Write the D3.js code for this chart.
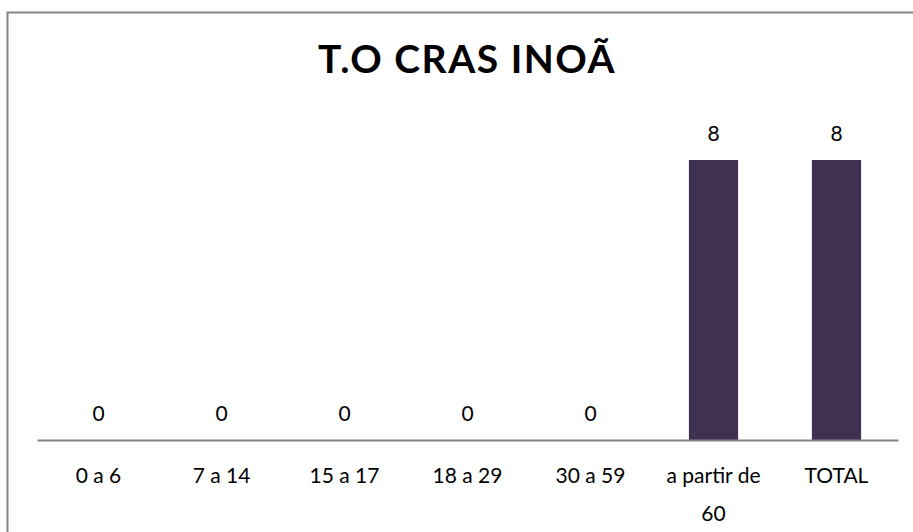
<!DOCTYPE html>
<html>
<head>
<meta charset="utf-8">
<script src="https://cdn.jsdelivr.net/npm/d3@7"></script>
<style>
  body { margin: 0; background: #fff; }
  svg { display: block; font-family: Lato, "Open Sans", sans-serif; }
</style>
</head>
<body>
<svg id="chart" width="913" height="532"></svg>
<script>
// chart data
const TITLE = "T.O CRAS INOÃ";
const categories = ["0 a 6", "7 a 14", "15 a 17", "18 a 29", "30 a 59", "a partir de 60", "TOTAL"];
const values = [0, 0, 0, 0, 0, 8, 8];
const Y_MAX = 9;

var width = 913, height = 532;
var margin = {top: 125, left: 37, right: 15, bottom: 92};
var labelSize = 21;

var svg = d3.select("#chart");

// outer frame (right and bottom edges fall outside the picture)
svg.append("rect")
  .attr("x", 7.5)
  .attr("y", 12.5)
  .attr("width", 940)
  .attr("height", 560)
  .attr("fill", "#fff")
  .attr("stroke", "#868686")
  .attr("stroke-width", 2);

svg.append("text")
  .attr("x", 467)
  .attr("y", 73)
  .attr("text-anchor", "middle")
  .attr("font-size", 39)
  .attr("font-weight", "bold")
  .attr("letter-spacing", 1.5)
  .attr("fill", "#000")
  .text(TITLE);

var x = d3.scaleBand()
  .domain(categories)
  .range([margin.left, width - margin.right])
  .paddingInner(0.6)
  .paddingOuter(0.3);

var y = d3.scaleLinear()
  .domain([0, Y_MAX])
  .range([height - margin.bottom, margin.top]);

// bars
svg.selectAll(".bar")
  .data(values)
  .enter().append("rect")
  .attr("class", "bar")
  .attr("x", function(d, i) { return x(categories[i]); })
  .attr("width", x.bandwidth())
  .attr("y", function(d) { return y(d); })
  .attr("height", function(d) { return y(0) - y(d); })
  .attr("fill", "#403152");

// value labels
svg.selectAll(".barValue")
  .data(values)
  .enter().append("text")
  .attr("class", "barValue")
  .attr("text-anchor", "middle")
  .attr("font-size", labelSize)
  .attr("x", function(d, i) { return x(categories[i]) + x.bandwidth() / 2; })
  .attr("y", function(d) { return y(d) - 19; })
  .text(function(d) { return d; });

// x axis
var xAxis = svg.append("g")
  .attr("transform", "translate(0," + y(0) + ")")
  .call(d3.axisBottom(x).tickSize(0).tickPadding(0));

xAxis.select(".domain")
  .attr("stroke", "#868686")
  .attr("stroke-width", 2);

xAxis.selectAll(".tick text")
  .attr("font-family", "Lato, 'Open Sans', sans-serif")
  .attr("font-size", labelSize)
  .attr("fill", "#000")
  .attr("y", 43)
  .attr("dy", 0)
  .call(wrap, x.step() * 0.95);

function wrap(texts, w) {
  texts.each(function() {
    var text = d3.select(this);
    var words = text.text().split(/\s+/);
    var lines = [], line = [];
    text.text(null);
    var probe = text.append("tspan");
    words.forEach(function(word) {
      line.push(word);
      probe.text(line.join(" "));
      if (probe.node().getComputedTextLength() > w && line.length > 1) {
        line.pop();
        lines.push(line.join(" "));
        line = [word];
      }
    });
    lines.push(line.join(" "));
    probe.remove();
    lines.forEach(function(l, i) {
      text.append("tspan")
        .attr("x", 0)
        .attr("y", 43 + i * 38)
        .text(l);
    });
  });
}
</script>
</body>
</html>
